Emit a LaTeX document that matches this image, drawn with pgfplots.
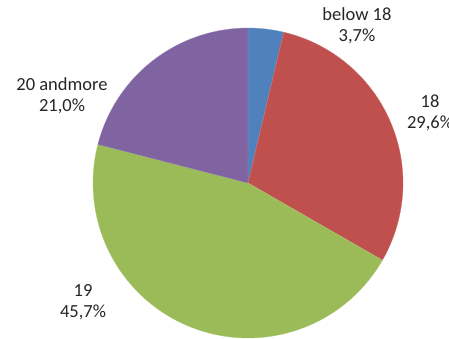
\documentclass[border=0pt]{standalone}
\usepackage{pgfplots}
\pgfplotsset{compat=1.18}
\usepackage{fontspec}
\setmainfont{Carlito}
\definecolor{sBlue}{HTML}{4F81BD}
\definecolor{sRed}{HTML}{C0504D}
\definecolor{sGreen}{HTML}{9BBB59}
\definecolor{sPurple}{HTML}{8064A2}
\begin{document}
\begin{tikzpicture}
\useasboundingbox (0,0) rectangle (449pt,338pt);
\clip (0,0) rectangle (449pt,338pt);
\begin{axis}[
  at={(0,0)}, anchor=south west,
  scale only axis, width=449pt, height=338pt,
  xmin=-248, xmax=201, ymin=-155, ymax=183,
  hide axis, clip=false,
]
% slices: below 18 3.7, 18 29.6, 19 45.7, 20 and more 21.0 (clockwise from top)
\addplot[fill=sBlue, draw=sBlue!80!white, line width=0.3pt, domain=76.68:90, samples=15, variable=\t]
  ({155*cos(t)},{155*sin(t)}) -- (axis cs:0,0) -- cycle;
\addplot[fill=sRed, draw=sRed!80!white, line width=0.3pt, domain=-29.88:76.68, samples=80, variable=\t]
  ({155*cos(t)},{155*sin(t)}) -- (axis cs:0,0) -- cycle;
\addplot[fill=sGreen, draw=sGreen!80!white, line width=0.3pt, domain=-194.4:-29.88, samples=120, variable=\t]
  ({155*cos(t)},{155*sin(t)}) -- (axis cs:0,0) -- cycle;
\addplot[fill=sPurple, draw=sPurple!80!white, line width=0.3pt, domain=-270:-194.4, samples=60, variable=\t]
  ({155*cos(t)},{155*sin(t)}) -- (axis cs:0,0) -- cycle;
\tikzset{lbl/.style={align=center, inner sep=0pt, text=black!85, font=\fontsize{18.5}{20.5}\selectfont}}
\node[lbl] at (axis cs:109,157) {below 18\\3,7\%};
\node[lbl] at (axis cs:182,70) {18\\29,6\%};
\node[lbl] at (axis cs:-165,-119) {19\\45,7\%};
\node[lbl] at (axis cs:-186,87) {20 andmore\\21,0\%};
\end{axis}
\end{tikzpicture}
\end{document}
